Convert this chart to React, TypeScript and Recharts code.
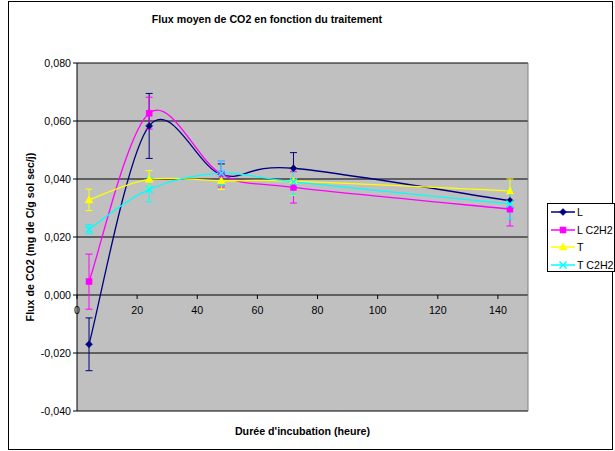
import React from 'react';
import { LineChart, Line, XAxis, YAxis, CartesianGrid, ErrorBar, ReferenceLine, Legend, Label } from 'recharts';

const hours = [4, 24, 48, 72, 144];
const fluxL = [-0.017, 0.0583, 0.0415, 0.0437, 0.0325];
const errL = [0.0091, 0.0112, 0.0037, 0.0054, 0.0025];
const fluxLC = [0.0046, 0.0627, 0.0417, 0.0371, 0.0296];
const errLC = [0.0095, 0.0055, 0.0045, 0.0054, 0.0058];
const fluxT = [0.0328, 0.0399, 0.0394, 0.0393, 0.0359];
const errT = [0.0037, 0.003, 0.003, 0.005, 0.0041];
const fluxTC = [0.0227, 0.0364, 0.042, 0.039, 0.0314];
const errTC = [0.0016, 0.0043, 0.0042, 0.0045, 0.005];

const xTicks = [0, 20, 40, 60, 80, 100, 120, 140];
const yTicks = [-0.04, -0.02, 0, 0.02, 0.04, 0.06, 0.08];
const X_DOMAIN = [0, 150];
const Y_DOMAIN = [-0.04, 0.08];

const title = 'Flux moyen de CO2 en fonction du traitement';
const xTitle = "Durée d'incubation (heure)";
const yTitle = 'Flux de CO2 (mg de C/g sol sec/j)';

const series = [
  { key: 'L', name: 'L', color: '#000080', shape: 'diamond' },
  { key: 'LC', name: 'L C2H2', color: '#FF00FF', shape: 'square' },
  { key: 'T', name: 'T', color: '#FFFF00', shape: 'triangle' },
  { key: 'TC', name: 'T C2H2', color: '#00FFFF', shape: 'x' },
];

const data = hours.map((h, i) => ({
  x: h,
  L: fluxL[i], LErr: errL[i],
  LC: fluxLC[i], LCErr: errLC[i],
  T: fluxT[i], TErr: errT[i],
  TC: fluxTC[i], TCErr: errTC[i],
}));

const FONT = 'Liberation Sans, Arial, sans-serif';
const FS = 10.67;
const W = 615;
const H = 451;
const X_AXIS_H = 30;
const M = { top: 63, right: 87, bottom: 40 - X_AXIS_H, left: 27 };
const Y_AXIS_W = 50;
const PLOT_H = H - M.top - M.bottom - X_AXIS_H;
const zeroY = M.top + (PLOT_H * (Y_DOMAIN[1] - 0)) / (Y_DOMAIN[1] - Y_DOMAIN[0]);

// Excel-like smoothed line (Catmull-Rom as cubic Bezier)
function smoothCurve(context: any) {
  let pts: number[][] = [];
  return {
    areaStart() {},
    areaEnd() {},
    lineStart() { pts = []; },
    point(x: number, y: number) { pts.push([+x, +y]); },
    lineEnd() {
      const n = pts.length;
      if (!n) return;
      context.moveTo(pts[0][0], pts[0][1]);
      for (let i = 0; i < n - 1; i++) {
        const p0 = pts[i - 1] || pts[i];
        const p1 = pts[i];
        const p2 = pts[i + 1];
        const p3 = pts[i + 2] || p2;
        context.bezierCurveTo(
          p1[0] + (p2[0] - p0[0]) / 6, p1[1] + (p2[1] - p0[1]) / 6,
          p2[0] - (p3[0] - p1[0]) / 6, p2[1] - (p3[1] - p1[1]) / 6,
          p2[0], p2[1]
        );
      }
    },
  };
}

function Marker({ shape, color, cx, cy }: any) {
  if (cx == null || cy == null) return null;
  if (shape === 'diamond') {
    return <polygon points={`${cx},${cy - 3.5} ${cx + 3.5},${cy} ${cx},${cy + 3.5} ${cx - 3.5},${cy}`} fill={color} stroke={color} strokeWidth={0.5} />;
  }
  if (shape === 'square') {
    return <rect x={cx - 3} y={cy - 3} width={6} height={6} fill={color} stroke={color} strokeWidth={0.5} />;
  }
  if (shape === 'triangle') {
    return <polygon points={`${cx},${cy - 4} ${cx + 4},${cy + 3} ${cx - 4},${cy + 3}`} fill={color} stroke={color} strokeWidth={0.5} />;
  }
  return (
    <g stroke={color} strokeWidth={1.5}>
      <line x1={cx - 3.5} y1={cy - 3.5} x2={cx + 3.5} y2={cy + 3.5} />
      <line x1={cx - 3.5} y1={cy + 3.5} x2={cx + 3.5} y2={cy - 3.5} />
    </g>
  );
}

function XTick(props: any) {
  const { x, payload } = props;
  return (
    <g>
      <line x1={x} x2={x} y1={zeroY} y2={zeroY + 4} stroke="#000" />
      <text x={x} y={zeroY + 15} textAnchor="middle" dominantBaseline="central" fontSize={FS} fontFamily={FONT} fill="#000">
        {payload.value}
      </text>
    </g>
  );
}

function LegendBox() {
  return (
    <div style={{ width: 68, height: 69, border: '1px solid #000', background: '#fff', boxSizing: 'border-box', position: 'relative' }}>
      {series.map((s, i) => {
        const cy = 8 + i * 17.7;
        return (
          <div key={s.key} style={{ position: 'absolute', left: 0, top: cy - 8, height: 16, width: 66 }}>
            <svg width={26} height={16} style={{ position: 'absolute', left: 3, top: 0 }}>
              <line x1={0} x2={24} y1={8} y2={8} stroke={s.color} strokeWidth={1.5} />
              <Marker shape={s.shape} color={s.color} cx={12} cy={8} />
            </svg>
            <span style={{ position: 'absolute', left: 29, top: 1, fontFamily: FONT, fontSize: FS, lineHeight: '14px', whiteSpace: 'nowrap', color: '#000' }}>{s.name}</span>
          </div>
        );
      })}
    </div>
  );
}

const fmt = (v: number) => v.toFixed(3).replace('.', ',');

export default function App() {
  return (
    <div style={{ position: 'absolute', left: 0, top: 0, width: W, height: H, background: '#fff', overflow: 'hidden' }}>
      <div style={{ position: 'absolute', left: 8, top: 1, width: 605, height: 449, border: '1px solid #000', boxSizing: 'border-box' }} />
      <div style={{ position: 'absolute', left: 0, top: 12, width: 534, textAlign: 'center', fontFamily: FONT, fontSize: FS, fontWeight: 'bold', lineHeight: '14px' }}>
        {title}
      </div>
      <div style={{ position: 'absolute', left: 0, top: 0 }}>
        <LineChart width={W} height={H} data={data} margin={M}>
          <CartesianGrid horizontal vertical={false} stroke="#000" fill="#C0C0C0" fillOpacity={1} />
          <XAxis
            dataKey="x"
            type="number"
            domain={X_DOMAIN}
            ticks={xTicks}
            height={X_AXIS_H}
            axisLine={false}
            tickLine={false}
            tick={<XTick />}
            interval={0}
          >
            <Label value={xTitle} position="insideBottom" offset={6} style={{ fontFamily: FONT, fontSize: FS, fontWeight: 'bold', fill: '#000' }} />
          </XAxis>
          <YAxis
            type="number"
            domain={Y_DOMAIN}
            ticks={yTicks}
            width={Y_AXIS_W}
            tickFormatter={fmt}
            axisLine={{ stroke: '#000' }}
            tickLine={{ stroke: '#000' }}
            tickSize={4}
            tickMargin={2}
            interval={0}
            tick={{ fontFamily: FONT, fontSize: FS, fill: '#000' }}
          >
            <Label value={yTitle} angle={-90} position="insideLeft" offset={3} style={{ fontFamily: FONT, fontSize: FS, fontWeight: 'bold', fill: '#000', textAnchor: 'middle' }} />
          </YAxis>
          <ReferenceLine x={X_DOMAIN[1]} stroke="#808080" ifOverflow="visible" />
          <Legend
            layout="vertical"
            align="center"
            verticalAlign="middle"
            content={<LegendBox />}
            wrapperStyle={{ position: 'absolute', left: 547, top: 203, width: 68, height: 69 }}
          />
          {series.map((s) => (
            <Line
              key={s.key}
              dataKey={s.key}
              name={s.name}
              type={smoothCurve as any}
              stroke={s.color}
              strokeWidth={1.3}
              isAnimationActive={false}
              activeDot={false}
              dot={(p: any) => <Marker key={`${s.key}-${p.index}`} shape={s.shape} color={s.color} cx={p.cx} cy={p.cy} />}
            >
              <ErrorBar dataKey={`${s.key}Err`} direction="y" width={3.5} stroke={s.color} strokeWidth={1} isAnimationActive={false} />
            </Line>
          ))}
        </LineChart>
      </div>
    </div>
  );
}
